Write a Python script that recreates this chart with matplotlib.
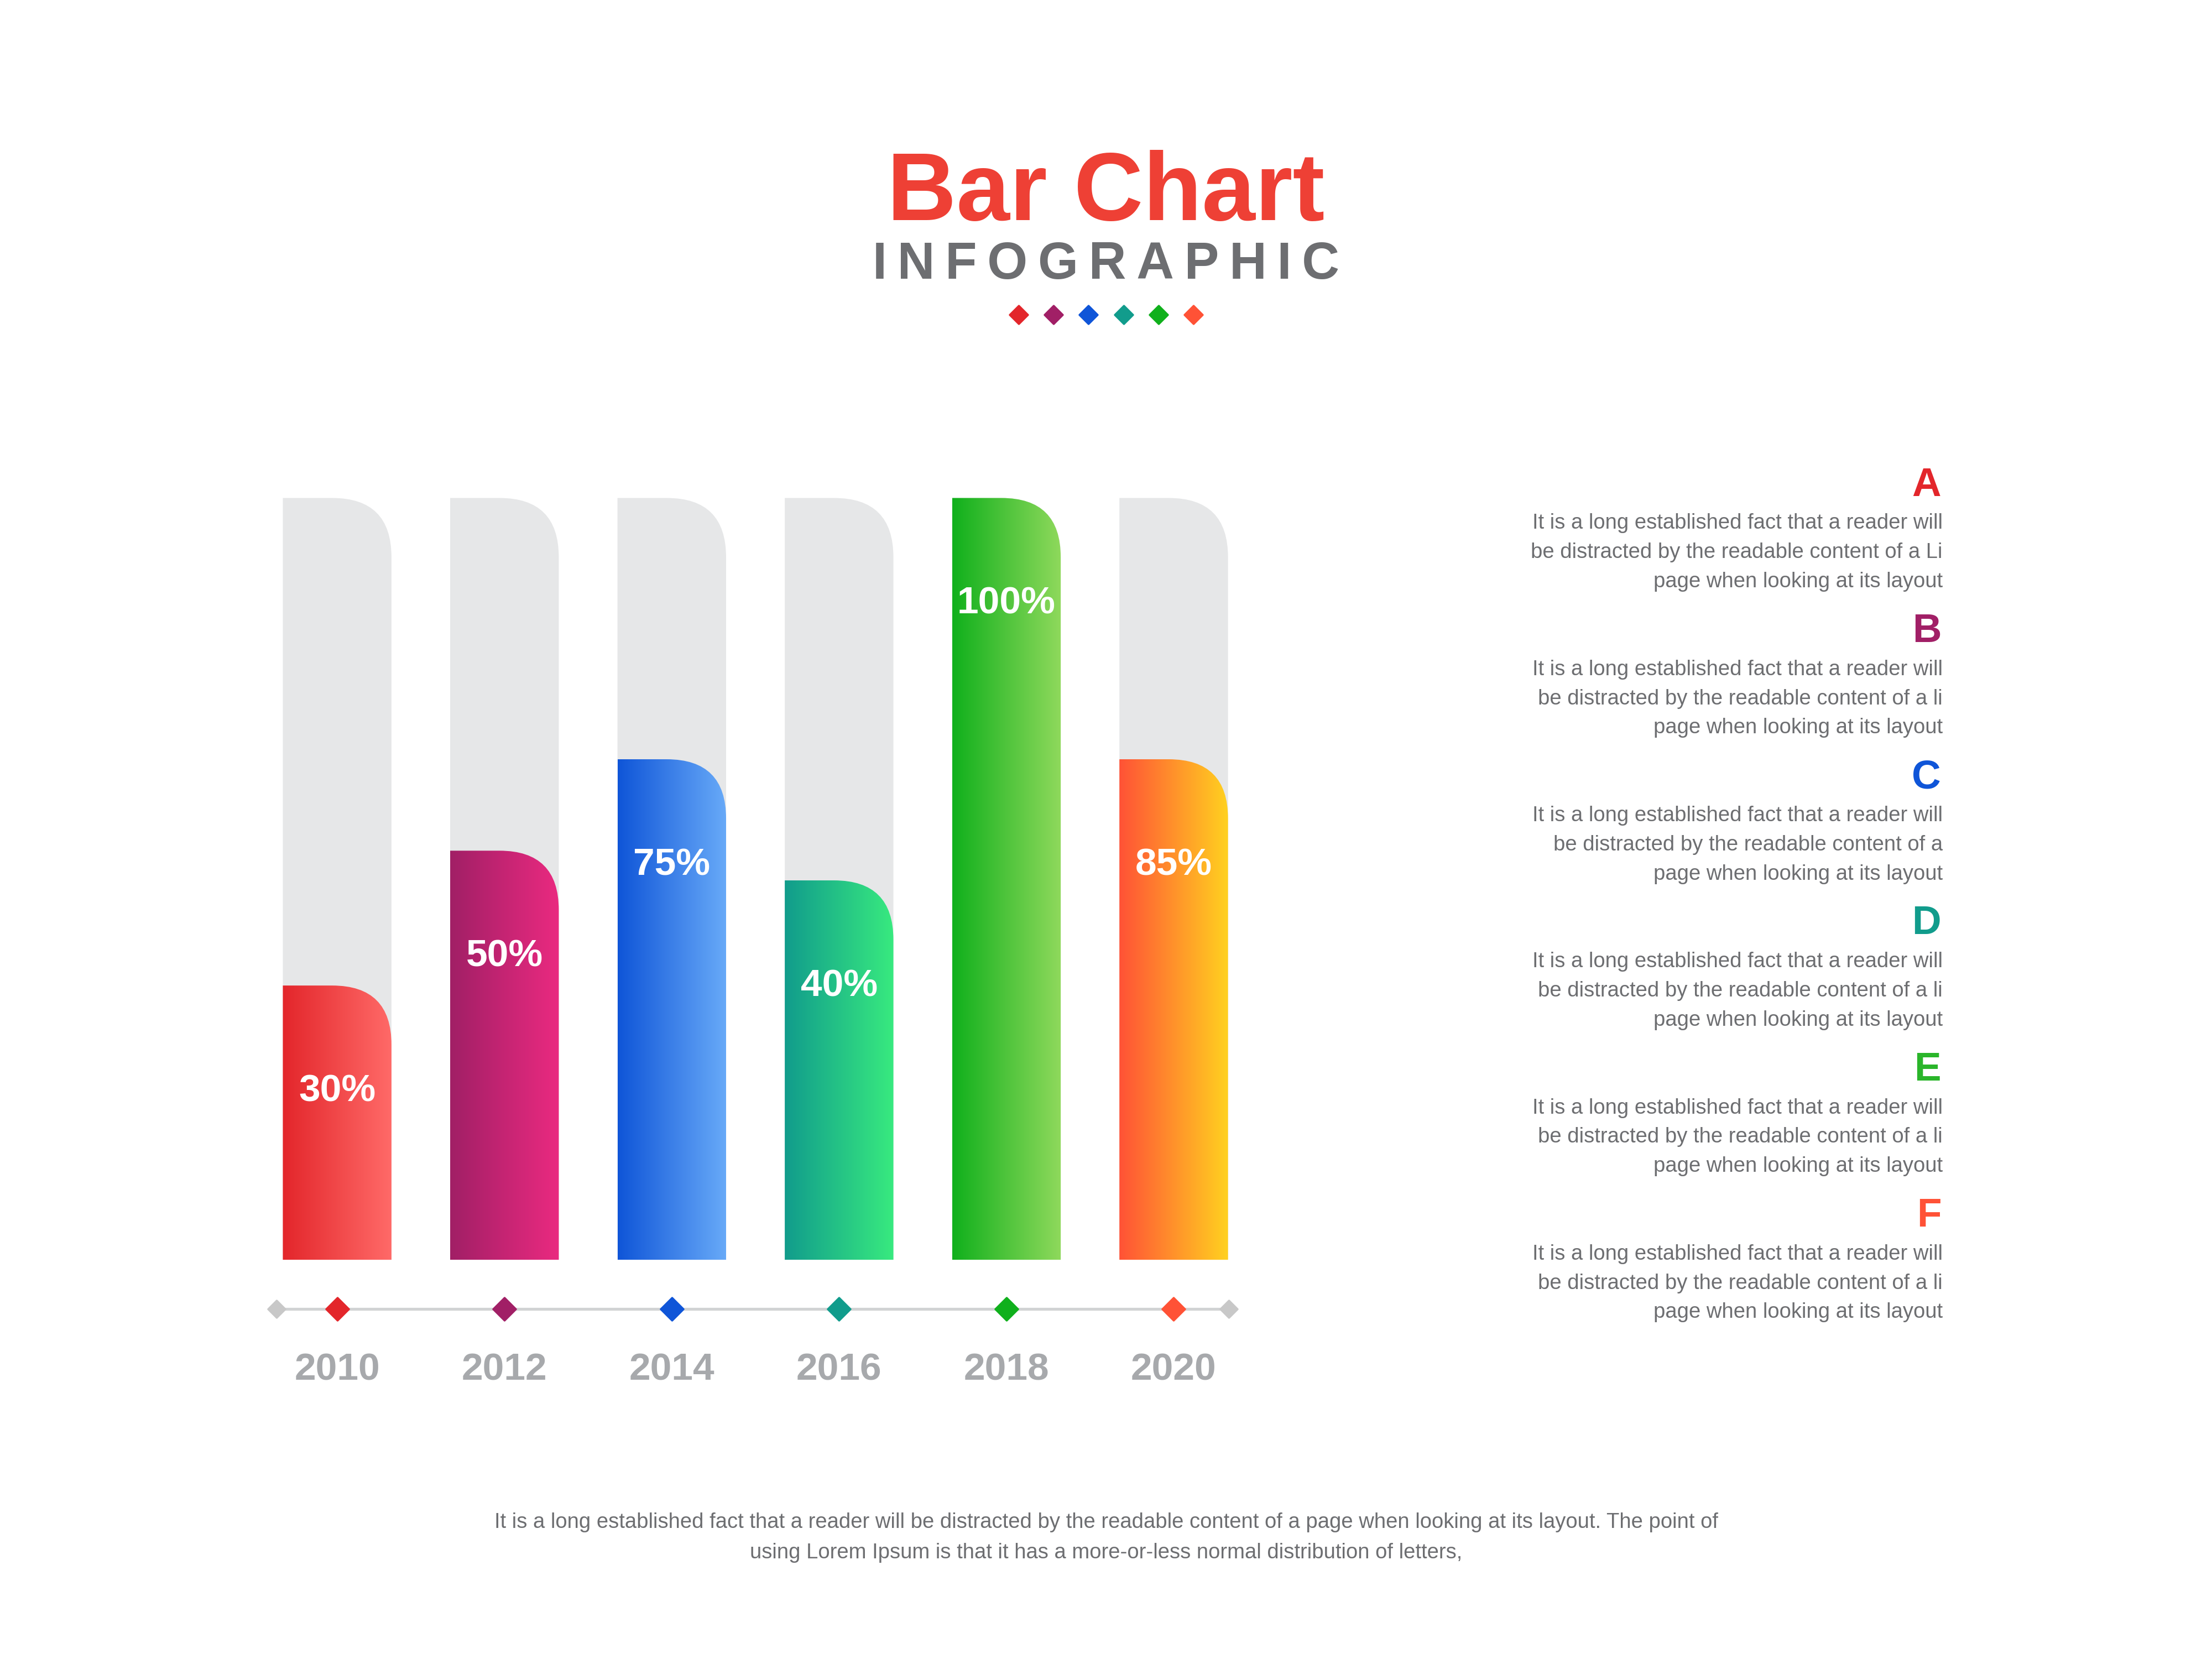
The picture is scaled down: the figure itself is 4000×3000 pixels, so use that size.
import numpy as np
import matplotlib.pyplot as plt
from matplotlib.path import Path
from matplotlib.patches import PathPatch
from matplotlib.colors import LinearSegmentedColormap

# Chart data
years = ["2010", "2012", "2014", "2016", "2018", "2020"]
labels = ["30%", "50%", "75%", "40%", "100%", "85%"]
fill_heights = [0.36, 0.537, 0.657, 0.498, 1.0, 0.657]  # drawn heights
colors_left = ["#e3262b", "#a11f66", "#0f55d8", "#119c8c", "#10b01c", "#ff5236"]
colors_right = ["#ff6a68", "#ea2a80", "#68aaf8", "#38ea7f", "#8fd95c", "#ffd120"]
letters = ["A", "B", "C", "D", "E", "F"]
text_lines = [
    ["It is a long established fact that a reader will", "be distracted by the readable content of a Li", "page when looking at its layout"],
    ["It is a long established fact that a reader will", "be distracted by the readable content of a li", "page when looking at its layout"],
    ["It is a long established fact that a reader will", "be distracted by the readable content of a", "page when looking at its layout"],
    ["It is a long established fact that a reader will", "be distracted by the readable content of a li", "page when looking at its layout"],
    ["It is a long established fact that a reader will", "be distracted by the readable content of a li", "page when looking at its layout"],
    ["It is a long established fact that a reader will", "be distracted by the readable content of a li", "page when looking at its layout"],
]
footer = ("It is a long established fact that a reader will be distracted by the readable content of a page when looking at its layout. The point of\n"
          "using Lorem Ipsum is that it has a more-or-less normal distribution of letters,")

plt.rcParams["font.family"] = "Liberation Sans"
fig = plt.figure(figsize=(16, 12), dpi=250)
ax = fig.add_axes([0, 0, 1, 1])
ax.set_xlim(0, 1568)
ax.set_ylim(1176, 0)
ax.axis("off")

base, full, bw = 893, 540, 77
x0, step = 239, 118.6


def rounded_bar(xl, top, w, bottom, r):
    verts = [(xl, bottom), (xl, top), (xl + w - r, top), (xl + w, top), (xl + w, top + r), (xl + w, bottom), (xl, bottom)]
    codes = [Path.MOVETO, Path.LINETO, Path.LINETO, Path.CURVE3, Path.CURVE3, Path.LINETO, Path.CLOSEPOLY]
    return Path(verts, codes)


for i, h in enumerate(fill_heights):
    xc = x0 + i * step
    xl = xc - bw / 2
    bg = PathPatch(rounded_bar(xl, base - full, bw, base, 42), facecolor="#e6e7e8", edgecolor="none")
    ax.add_patch(bg)
    top = base - h * full
    fg = PathPatch(rounded_bar(xl, top, bw, base, 42), facecolor="none", edgecolor="none")
    ax.add_patch(fg)
    cmap = LinearSegmentedColormap.from_list("g%d" % i, [colors_left[i], colors_right[i]])
    im = ax.imshow(np.linspace(0, 1, 256).reshape(1, -1), cmap=cmap, aspect="auto",
                   extent=(xl, xl + bw, base, top), zorder=2)
    im.set_clip_path(fg)
    ax.text(xc, top + 75, labels[i], ha="center", va="center", color="white",
            fontsize=20, fontweight="bold", zorder=3)
    ax.scatter([xc], [928], marker="D", s=70, color=colors_left[i], zorder=4)
    ax.text(xc, 971, years[i], ha="center", va="center", color="#a7a9ac", fontsize=20, fontweight="bold")

ax.plot([196, 871], [928, 928], color="#d1d3d4", lw=1.5, zorder=1)
ax.scatter([196, 871], [928, 928], marker="D", s=40, color="#c8c8c8", zorder=4)

# Title
ax.text(784, 138, "Bar Chart", ha="center", va="center", color="#ee4035", fontsize=50, fontweight="bold")
ax.text(784, 188, "I N F O G R A P H I C".replace(" ", "\u2009"), ha="center", va="center",
        color="#6d6e71", fontsize=27, fontweight="bold")
for i, c in enumerate(colors_left):
    ax.scatter([722 + i * 24.8], [223], marker="D", s=45, color=c)

# Right-side notes
for i, (ltr, lines) in enumerate(zip(letters, text_lines)):
    y = 344 + i * 103.6
    ax.text(1376, y, ltr, ha="right", va="center", color=colors_left[i] if i != 4 else "#2ab52a",
            fontsize=21, fontweight="bold")
    for j, line in enumerate(lines):
        ax.text(1377, y + 27 + j * 20.7, line, ha="right", va="center", color="#6d6e71", fontsize=11)

ax.text(784, 1090, footer, ha="center", va="center", color="#6d6e71", fontsize=11, linespacing=1.7)

fig.savefig("out.png", facecolor="white")
